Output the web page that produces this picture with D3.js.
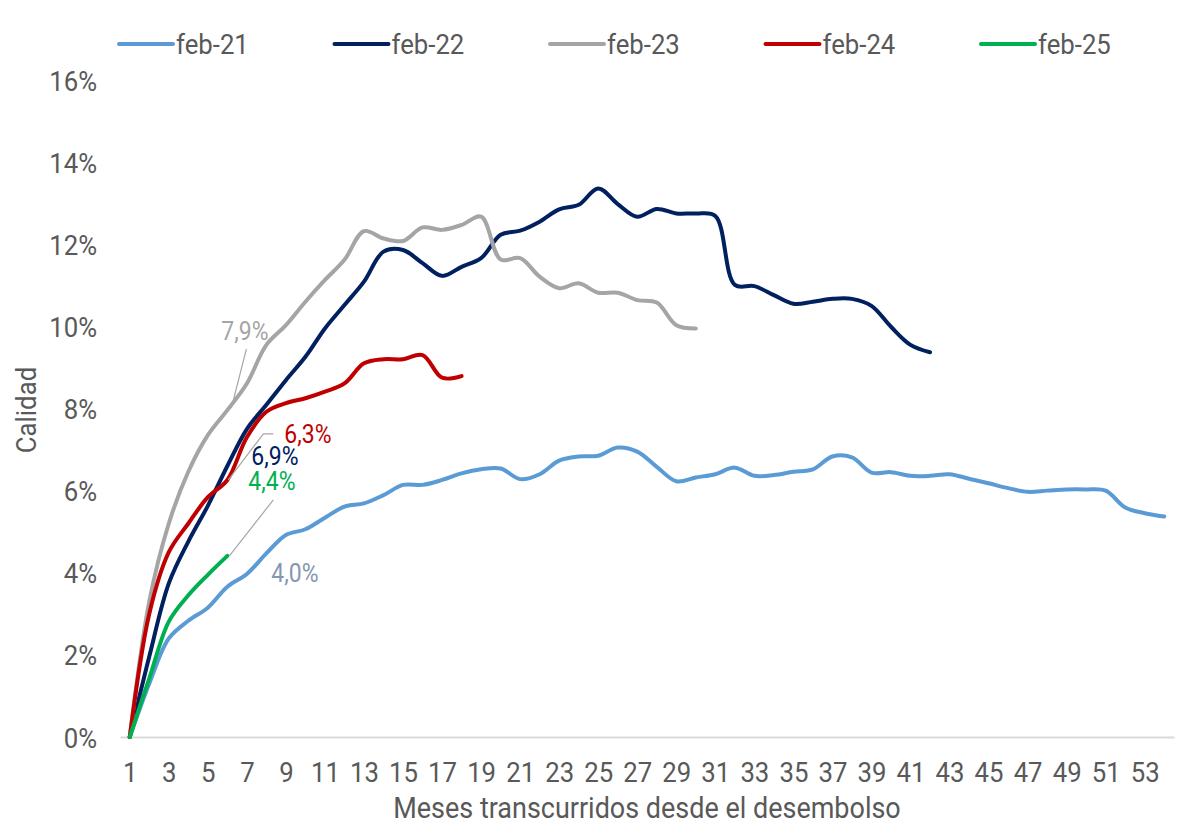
<!DOCTYPE html>
<html>
<head>
<meta charset="utf-8">
<script src="https://cdn.jsdelivr.net/npm/d3@7"></script>
<style>
	body { margin: 0; background: #ffffff; }
	svg { display: block; font-family: Roboto, 'Noto Sans', sans-serif; }
</style>
</head>
<body>
<script>
'use strict';

// Months since disbursement and axis ticks
const months = d3.range(1, 55);
const tickMonths = months.filter((m) => m % 2 == 1);
const yTicks = [0, 2, 4, 6, 8, 10, 12, 14, 16];

// One series per cohort, in % (month 1 first)
const seriesNames = ['feb-21', 'feb-22', 'feb-23', 'feb-24', 'feb-25'];
const feb21 = [0, 1.3, 2.4, 2.83, 3.15, 3.66, 3.97, 4.47, 4.92, 5.06, 5.34, 5.61, 5.69, 5.89, 6.14, 6.14, 6.26, 6.42, 6.52, 6.54,
	6.28, 6.40, 6.73, 6.83, 6.85, 7.05, 6.95, 6.58, 6.23, 6.32, 6.40, 6.56, 6.36, 6.38, 6.46, 6.52, 6.83, 6.81, 6.44, 6.45,
	6.36, 6.36, 6.40, 6.29, 6.18, 6.06, 5.97, 6.00, 6.03, 6.03, 6.00, 5.59, 5.45, 5.37];
const feb22 = [0, 1.96, 3.74, 4.76, 5.63, 6.6, 7.5, 8.09, 8.69, 9.26, 9.95, 10.52, 11.09, 11.82, 11.86, 11.54, 11.23, 11.45, 11.66, 12.23,
	12.33, 12.55, 12.85, 12.96, 13.36, 12.98, 12.67, 12.86, 12.75, 12.75, 12.69, 11.01, 10.98, 10.76, 10.55, 10.60, 10.67, 10.67, 10.50, 9.99,
	9.55, 9.37];
const feb23 = [0, 3.3, 5.2, 6.46, 7.35, 7.96, 8.61, 9.55, 10.03, 10.60, 11.13, 11.62, 12.32, 12.14, 12.08, 12.41, 12.35, 12.47, 12.67, 11.63,
	11.66, 11.21, 10.93, 11.05, 10.82, 10.82, 10.64, 10.58, 10.03, 9.95];
const feb24 = [0, 3.0, 4.5, 5.2, 5.84, 6.26, 7.3, 7.92, 8.13, 8.25, 8.41, 8.61, 9.10, 9.20, 9.20, 9.30, 8.75, 8.79];
const feb25 = [0, 1.43, 2.81, 3.45, 3.95, 4.41];

// Data labels shown at the month of the latest cohort
const labelMonth = 6;
const labelTexts = ['4,0%', '6,9%', '7,9%', '6,3%', '4,4%'];

const series = [feb21, feb22, feb23, feb24, feb25];
const colors = ['#5B9BD5', '#002060', '#A5A5A5', '#C00000', '#00B050'];
const labelColors = ['#8497B0', '#002060', '#A5A5A5', '#C00000', '#00B050'];
const TEXT = '#595959';
const SQUEEZE = 'scale(0.92,1)';

const W = 1178, H = 829;

let svg = d3.select('body').append('svg').attr('width', W).attr('height', H);

let x = d3.scalePoint().domain(months).range([120, 1174]).padding(0.5);
let y = d3.scaleLinear().domain([0, 16]).range([737, 80]);

// X axis
let xAxis = svg.append('g')
	.attr('transform', 'translate(0,737)')
	.call(d3.axisBottom(x).tickValues(tickMonths).tickSize(0).tickSizeOuter(0).tickPadding(25));
xAxis.attr('font-family', null).attr('font-size', null);
xAxis.select('.domain').attr('stroke', '#D9D9D9').attr('stroke-width', 2);
xAxis.selectAll('text').attr('fill', TEXT).style('font-size', '28px').attr('transform', SQUEEZE);

// Y axis, labels only
let yAxis = svg.append('g')
	.attr('transform', 'translate(97,0)')
	.call(d3.axisLeft(y).tickValues(yTicks).tickSize(0).tickPadding(0).tickFormat((d) => d + '%'));
yAxis.attr('font-family', null).attr('font-size', null);
yAxis.select('.domain').remove();
yAxis.selectAll('text').attr('fill', TEXT).style('font-size', '28px').attr('dy', '0.36em').attr('transform', SQUEEZE);

svg.append('text')
	.attr('transform', 'translate(36,410) rotate(-90) ' + SQUEEZE)
	.attr('text-anchor', 'middle')
	.attr('fill', TEXT)
	.style('font-size', '28px')
	.text('Calidad');

svg.append('text')
	.attr('transform', 'translate(647,818) scale(0.93,1)')
	.attr('text-anchor', 'middle')
	.attr('fill', TEXT)
	.style('font-size', '29px')
	.text('Meses transcurridos desde el desembolso');

// Lines
let line = d3.line()
	.x((d, i) => x(months[i]))
	.y((d) => y(d))
	.curve(d3.curveCatmullRom);

svg.append('g').selectAll('path')
	.data(series)
	.enter()
	.append('path')
	.attr('d', line)
	.attr('fill', 'none')
	.attr('stroke', (d, i) => colors[i])
	.attr('stroke-width', 4)
	.attr('stroke-linecap', 'round')
	.attr('stroke-linejoin', 'round');

// Data labels at month 6 (offsets relative to each point)
let pt = (i) => [x(labelMonth), y(series[i][labelMonth - 1])];
let leaders = [
	[pt(2), [4, -2], [19, -61]],
	[pt(3), [1, 0], [36, -46], [46, -46]],
	[pt(4), [2, 0], [46, -56]]
];
leaders.forEach((l) => {
	let p = l[0];
	let pts = l.slice(1).map((o) => [p[0] + o[0], p[1] + o[1]]);
	svg.append('path')
		.attr('d', d3.line()(pts))
		.attr('fill', 'none')
		.attr('stroke', '#A6A6A6')
		.attr('stroke-width', 1.2);
});

let labelOffsets = [[44, -5], [24, -1], [-6, -70], [57, -37], [21, -66]];
labelTexts.forEach((t, i) => {
	let p = pt(i);
	svg.append('text')
		.attr('transform', 'translate(' + (p[0] + labelOffsets[i][0]) + ',' + (p[1] + labelOffsets[i][1]) + ') ' + SQUEEZE)
		.attr('fill', labelColors[i])
		.style('font-size', '25px')
		.text(t);
});

// Legend
let legend = svg.append('g').selectAll('g')
	.data(seriesNames)
	.enter()
	.append('g')
	.attr('transform', (d, i) => 'translate(' + (119 + i * 215.5) + ',44)');
legend.append('line')
	.attr('x1', 0).attr('x2', 54).attr('y1', 0).attr('y2', 0)
	.attr('stroke', (d, i) => colors[i])
	.attr('stroke-width', 4)
	.attr('stroke-linecap', 'round');
legend.append('text')
	.attr('transform', 'translate(57,10) ' + SQUEEZE)
	.attr('fill', TEXT)
	.style('font-size', '28px')
	.text((d) => d);
</script>
</body>
</html>
